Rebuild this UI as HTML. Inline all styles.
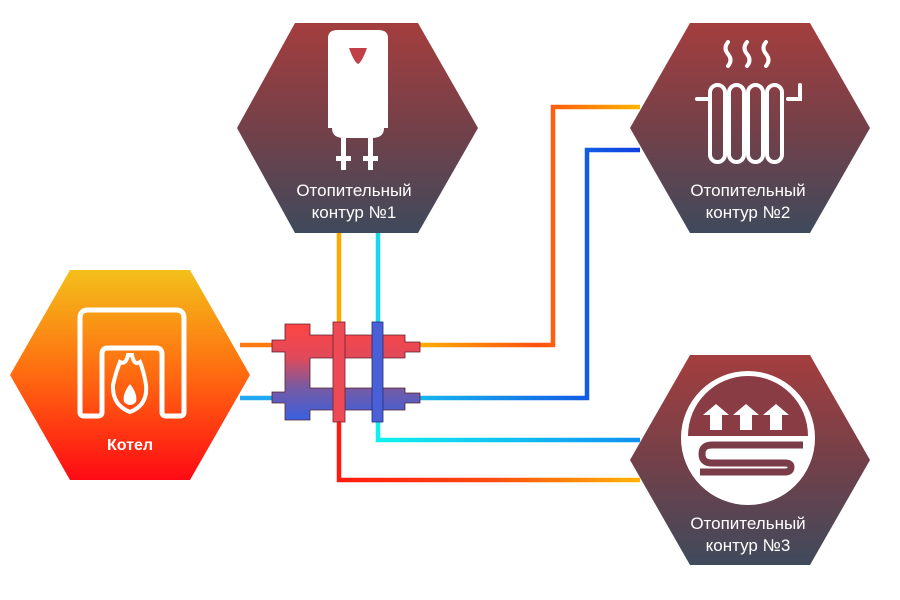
<!DOCTYPE html>
<html><head><meta charset="utf-8"><style>
html,body{margin:0;padding:0;background:#fff;}
svg{display:block;}
text{font-family:"Liberation Sans","DejaVu Sans",sans-serif;fill:#fff;}
</style></head><body>
<svg width="900" height="600" viewBox="0 0 900 600" xmlns="http://www.w3.org/2000/svg">
<defs>
<linearGradient id="hx" x1="0" y1="0" x2="0" y2="1">
<stop offset="0" stop-color="#a43e3e"/><stop offset="0.5" stop-color="#744049"/><stop offset="1" stop-color="#3f4a5c"/>
</linearGradient>
<linearGradient id="kot" x1="0" y1="0" x2="0" y2="1">
<stop offset="0" stop-color="#f3c01a"/><stop offset="0.5" stop-color="#ff6a10"/><stop offset="1" stop-color="#ff0a14"/>
</linearGradient>
<linearGradient id="man" x1="0" y1="0" x2="0" y2="1">
<stop offset="0" stop-color="#ff4444"/><stop offset="0.35" stop-color="#e04a5a"/><stop offset="0.65" stop-color="#7a5aa0"/><stop offset="1" stop-color="#3a60e0"/>
</linearGradient>
<linearGradient id="hot" gradientUnits="userSpaceOnUse" x1="415" y1="0" x2="640" y2="0">
<stop offset="0" stop-color="#ffb000"/><stop offset="0.55" stop-color="#ff5010"/><stop offset="1" stop-color="#ffb400"/>
</linearGradient>
<linearGradient id="hot2" gradientUnits="userSpaceOnUse" x1="339" y1="0" x2="640" y2="0">
<stop offset="0" stop-color="#ff1a10"/><stop offset="0.5" stop-color="#ff4a10"/><stop offset="1" stop-color="#ffb400"/>
</linearGradient>
<linearGradient id="cold" gradientUnits="userSpaceOnUse" x1="415" y1="0" x2="640" y2="0">
<stop offset="0" stop-color="#18b8f0"/><stop offset="1" stop-color="#1040e0"/>
</linearGradient>
<linearGradient id="cyan" gradientUnits="userSpaceOnUse" x1="378" y1="0" x2="640" y2="0">
<stop offset="0" stop-color="#10f0f0"/><stop offset="1" stop-color="#1090f0"/>
</linearGradient>
</defs>

<!-- pipes -->
<g fill="none" stroke-width="4.5">
<path d="M240 345 H280" stroke="#ff7a10"/>
<path d="M240 398 H280" stroke="#20a8f0"/>
<path d="M339 233 V325" stroke="#ffa800"/>
<path d="M378 233 V325" stroke="#18d8f0"/>
<path d="M415 345 H553 V107 H640" stroke="url(#hot)"/>
<path d="M415 398 H587 V150 H640" stroke="url(#cold)"/>
<path d="M378 420 V440 H640" stroke="url(#cyan)"/>
<path d="M339 420 V480 H640" stroke="url(#hot2)"/>
</g>

<!-- manifold -->
<g fill="url(#man)" stroke="#5a2030" stroke-width="0.8">
<path d="M285 324 H310 V335 H405 V342 H420 V352 H405 V358 H310 V388 H405 V393 H420 V403 H405 V410 H310 V420 H285 V403 H272 V392 H285 V352 H272 V340 H285 Z"/>
</g>
<rect x="333" y="322" width="12" height="100" fill="#ee4a55" stroke="#702030" stroke-width="0.8"/>
<rect x="372" y="322" width="11" height="100" fill="#4a60d8" stroke="#203070" stroke-width="0.8"/>

<!-- Kotel hex -->
<polygon points="70,270 190,270 250,375 190,480 70,480 10,375" fill="url(#kot)"/>
<g fill="none" stroke="#fff" stroke-width="5">
<path d="M80 412 V318 Q80 310 88 310 H176 Q184 310 184 318 V412 Q184 416 180 416 H166 Q162 416 162 412 V354 Q162 348 156 348 H108 Q102 348 102 354 V412 Q102 416 98 416 H84 Q80 416 80 412 Z"/>
</g>
<path d="M128 355 Q126 365 120 362 Q116 372 113 385 Q112 405 130 412 Q148 405 146 385 Q144 372 140 362 Q134 366 132 355 Z" fill="none" stroke="#fff" stroke-width="4"/>
<path d="M130 384 Q122 394 124 402 Q130 408 136 402 Q138 394 130 384 Z" fill="#fff"/>
<text x="130" y="450" font-size="16" font-weight="bold" text-anchor="middle">Котел</text>

<!-- hex 1 -->
<polygon points="295,23 418,23 478,128 418,233 295,233 237,128" fill="url(#hx)"/>
<path d="M328 38 Q328 30 338 30 H378 Q388 30 388 38 V128 H328 Z" fill="#fff"/>
<path d="M332 128 H384 Q384 138 372 138 H344 Q332 138 332 128 Z" fill="#fff"/>
<path d="M349 48 H367 Q362 62 358 64 Q354 62 349 48 Z" fill="#c04048"/>
<rect x="341" y="138" width="5" height="32" fill="#fff"/><rect x="368" y="138" width="5" height="32" fill="#fff"/>
<rect x="336" y="156" width="15" height="5" fill="#fff"/><rect x="363" y="156" width="15" height="5" fill="#fff"/>
<text x="354" y="196" font-size="17" text-anchor="middle">Отопительный</text>
<text x="354" y="218" font-size="17" text-anchor="middle">контур  №1</text>

<!-- hex 2 -->
<polygon points="690,23 810,23 870,128 810,233 690,233 630,128" fill="url(#hx)"/>
<g fill="none" stroke="#fff" stroke-width="4" stroke-linecap="round">
<path d="M728 42 q-5 6 0 12 q5 6 0 12"/><path d="M747 42 q-5 6 0 12 q5 6 0 12"/><path d="M766 42 q-5 6 0 12 q5 6 0 12"/>
<path d="M697 99 H710 M788 99 H800 V85"/>
<rect x="710" y="85" width="15" height="77" rx="7.5"/>
<rect x="729" y="85" width="15" height="77" rx="7.5"/>
<rect x="748" y="85" width="15" height="77" rx="7.5"/>
<rect x="767" y="85" width="15" height="77" rx="7.5"/>
</g>
<text x="748" y="196" font-size="17" text-anchor="middle">Отопительный</text>
<text x="748" y="218" font-size="17" text-anchor="middle">контур  №2</text>

<!-- hex 3 -->
<polygon points="690,355 810,355 870,460 810,565 690,565 630,460" fill="url(#hx)"/>
<circle cx="748" cy="438" r="67" fill="#fff"/>
<path d="M688 436 A60 60 0 0 1 808 436 Z" fill="#8a3c45"/>
<g fill="#fff">
<path d="M710 430 V415 H703 L716 404 L729 415 H722 V430 Z"/>
<path d="M740 430 V415 H733 L746 404 L759 415 H752 V430 Z"/>
<path d="M770 430 V415 H763 L776 404 L789 415 H782 V430 Z"/>
</g>
<path d="M803 445 H712 Q702 445 702 454 Q702 463 712 463 H785 Q791 463 791 467 Q791 472 785 472 H700" fill="none" stroke="#7a3c48" stroke-width="7"/>
<text x="748" y="529" font-size="17" text-anchor="middle">Отопительный</text>
<text x="748" y="551" font-size="17" text-anchor="middle">контур  №3</text>
</svg>
</body></html>
